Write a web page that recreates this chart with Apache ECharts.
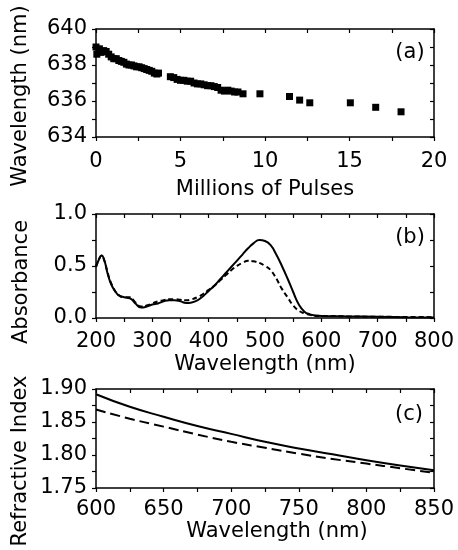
<!DOCTYPE html>
<html>
<head>
<meta charset="utf-8">
<script src="https://cdn.jsdelivr.net/npm/echarts@6/dist/echarts.min.js"></script>
<style>
html, body { margin: 0; padding: 0; background: #fff; }
#main { width: 458px; height: 550px; }
</style>
</head>
<body>
<div id="main"></div>
<script>
// (a) emission wavelength vs number of pulses
var pulses = [0.0, 0.05, 0.2, 0.3, 0.45, 0.6, 0.75, 0.9, 1.05, 1.2, 1.35, 1.5, 1.65, 1.8, 1.95,
    2.1, 2.25, 2.4, 2.55, 2.7, 2.85, 3.0, 3.15, 3.3, 3.45, 3.6, 3.7,
    4.4, 4.6, 4.8, 5.0, 5.2, 5.4, 5.6, 5.8, 6.0, 6.2, 6.4, 6.6, 6.8, 7.0, 7.2, 7.4, 7.6, 7.8,
    8.0, 8.2, 8.4, 8.7, 9.7, 11.45, 12.05, 12.65, 15.05, 16.55, 18.05]
var peakWl = [639.0, 638.6, 638.9, 638.7, 638.8, 638.75, 638.6, 638.45, 638.35, 638.35, 638.25, 638.2, 638.15, 638.05, 638.0,
    638.0, 637.95, 637.9, 637.9, 637.85, 637.8, 637.75, 637.7, 637.65, 637.55, 637.5, 637.55,
    637.35, 637.3, 637.2, 637.15, 637.15, 637.1, 637.1, 637.0, 636.95, 636.95, 636.9, 636.85, 636.85, 636.8, 636.75, 636.6, 636.55, 636.6,
    636.55, 636.5, 636.5, 636.4, 636.4, 636.25, 636.05, 635.9, 635.9, 635.65, 635.4]

// (b) absorbance spectra
var absWl = [200, 205, 210, 215, 220, 225, 230, 235, 240, 250, 260, 265, 270, 280, 290, 300, 310, 320, 330, 340,
    350, 360, 370, 380, 390, 400, 410, 420, 430, 440, 450, 460, 470, 480, 490, 500, 510, 520, 530, 540,
    550, 560, 570, 580, 590, 600, 650, 700, 750, 800]
var absSolid = [0.49, 0.56, 0.60, 0.55, 0.44, 0.35, 0.29, 0.25, 0.22, 0.20, 0.19, 0.17, 0.14, 0.10, 0.11, 0.13, 0.14, 0.16, 0.17, 0.17,
    0.16, 0.145, 0.15, 0.17, 0.21, 0.26, 0.31, 0.37, 0.43, 0.49, 0.55, 0.61, 0.67, 0.72, 0.75, 0.74, 0.70, 0.61, 0.50, 0.38,
    0.25, 0.13, 0.06, 0.035, 0.025, 0.02, 0.015, 0.012, 0.008, 0.005]
var absDashed = [0.49, 0.56, 0.60, 0.55, 0.45, 0.36, 0.30, 0.25, 0.22, 0.20, 0.20, 0.18, 0.15, 0.11, 0.12, 0.14, 0.16, 0.17, 0.18, 0.18,
    0.175, 0.17, 0.18, 0.20, 0.23, 0.27, 0.31, 0.36, 0.41, 0.46, 0.50, 0.53, 0.55, 0.545, 0.53, 0.50, 0.46, 0.38, 0.28, 0.20,
    0.12, 0.07, 0.045, 0.03, 0.02, 0.02, 0.015, 0.012, 0.01, 0.008]

// (c) refractive index dispersion
var riWl = [600, 625, 650, 675, 700, 725, 750, 775, 800, 825, 850]
var riSolid = [1.892, 1.873, 1.858, 1.844, 1.832, 1.820, 1.810, 1.801, 1.792, 1.784, 1.777]
var riDashed = [1.869, 1.855, 1.843, 1.831, 1.820, 1.811, 1.802, 1.794, 1.787, 1.780, 1.773]

var FONT = 'DejaVu Sans'
var FS = 21

var zip = function(xs, ys) {
    var out = []
    for (var i = 0; i < xs.length; i++) {
        out.push([xs[i], ys[i]])
    }
    return out
}

var lineStyle = {color: '#000', width: 1.5}
var tickStyle = {color: '#000', width: 1.2}

// bottom / left axes carry labels, ticks outward
var labelAxis = function(grid, pos, min, max, step, opts) {
    var ax = {
        gridIndex: grid,
        type: 'value',
        position: pos,
        min: min,
        max: max,
        interval: step,
        axisLine: {show: true, onZero: false, lineStyle: lineStyle},
        axisTick: {show: true, inside: false, length: 4, lineStyle: tickStyle},
        minorTick: {show: true, splitNumber: 2, length: 4, lineStyle: tickStyle},
        splitLine: {show: false},
        axisLabel: {
            margin: opts.margin,
            color: '#000',
            fontFamily: FONT,
            fontSize: FS,
            formatter: opts.formatter
        }
    }
    if (opts.name) {
        ax.name = opts.name
        ax.nameLocation = 'middle'
        ax.nameGap = opts.nameGap
        ax.nameTextStyle = {color: '#000', fontFamily: FONT, fontSize: FS, padding: opts.namePadding || 0}
    }
    return ax
}

// top / right axes only close the frame, ticks inward
var frameAxis = function(grid, pos, min, max, step) {
    return {
        gridIndex: grid,
        type: 'value',
        position: pos,
        min: min,
        max: max,
        interval: step,
        axisLine: {show: true, onZero: false, lineStyle: lineStyle},
        axisTick: {show: true, inside: true, length: 4, lineStyle: tickStyle},
        minorTick: {show: true, splitNumber: 2, length: 4, lineStyle: tickStyle},
        splitLine: {show: false},
        axisLabel: {show: false}
    }
}

var fixed = function(n) {
    return function(v) { return v.toFixed(n) }
}

var textEl = function(x, y, text, rotate) {
    return {
        type: 'text',
        x: x,
        y: y,
        rotation: rotate ? Math.PI / 2 : 0,
        style: {
            text: text,
            fill: '#000',
            font: FS + 'px "' + FONT + '"',
            align: 'center',
            verticalAlign: 'middle'
        }
    }
}

var myChart = echarts.init(document.querySelector('#main'), null, {renderer: 'canvas'})

var option = {
    backgroundColor: '#fff',
    animation: false,
    grid: [
        {left: 96, right: 24, top: 29, height: 108, outerBoundsMode: 'none'},
        {left: 96, right: 24, top: 214, height: 104, outerBoundsMode: 'none'},
        {left: 96, right: 24, top: 389, height: 99, outerBoundsMode: 'none'}
    ],
    xAxis: [
        labelAxis(0, 'bottom', 0, 20, 5, {margin: 14, name: 'Millions of Pulses', nameGap: 42}),
        frameAxis(0, 'top', 0, 20, 5),
        labelAxis(1, 'bottom', 200, 800, 100, {margin: 13, name: 'Wavelength (nm)', nameGap: 36}),
        frameAxis(1, 'top', 200, 800, 100),
        labelAxis(2, 'bottom', 600, 850, 50, {margin: 11, name: 'Wavelength (nm)', nameGap: 29, namePadding: [0, 0, 0, 24]}),
        frameAxis(2, 'top', 600, 850, 50)
    ],
    yAxis: [
        labelAxis(0, 'left', 634, 640, 2, {margin: 9}),
        frameAxis(0, 'right', 634, 640, 2),
        labelAxis(1, 'left', 0, 1, 0.5, {margin: 9, formatter: fixed(1)}),
        frameAxis(1, 'right', 0, 1, 0.5),
        labelAxis(2, 'left', 1.75, 1.9, 0.05, {margin: 9, formatter: fixed(2)}),
        frameAxis(2, 'right', 1.75, 1.9, 0.05)
    ],
    graphic: [
        textEl(21, 96, 'Wavelength (nm)', true),
        textEl(22, 282, 'Absorbance', true),
        textEl(21, 461, 'Refractive Index', true),
        textEl(410, 53, '(a)'),
        textEl(410, 238, '(b)'),
        textEl(409, 415, '(c)')
    ],
    series: [
        {
            name: 'peak',
            type: 'scatter',
            xAxisIndex: 0,
            yAxisIndex: 0,
            symbol: 'rect',
            symbolSize: 7,
            itemStyle: {color: '#000', opacity: 1},
            data: zip(pulses, peakWl)
        },
        {
            name: 'abs solid',
            type: 'line',
            xAxisIndex: 2,
            yAxisIndex: 2,
            smooth: true,
            showSymbol: false,
            lineStyle: {color: '#000', width: 2},
            data: zip(absWl, absSolid)
        },
        {
            name: 'abs dashed',
            type: 'line',
            xAxisIndex: 2,
            yAxisIndex: 2,
            smooth: true,
            showSymbol: false,
            lineStyle: {color: '#000', width: 2, type: [5, 3]},
            data: zip(absWl, absDashed)
        },
        {
            name: 'n solid',
            type: 'line',
            xAxisIndex: 4,
            yAxisIndex: 4,
            smooth: true,
            showSymbol: false,
            lineStyle: {color: '#000', width: 2},
            data: zip(riWl, riSolid)
        },
        {
            name: 'n dashed',
            type: 'line',
            xAxisIndex: 4,
            yAxisIndex: 4,
            smooth: true,
            showSymbol: false,
            lineStyle: {color: '#000', width: 2, type: [10, 5]},
            data: zip(riWl, riDashed)
        }
    ]
}

myChart.setOption(option)
</script>
</body>
</html>
